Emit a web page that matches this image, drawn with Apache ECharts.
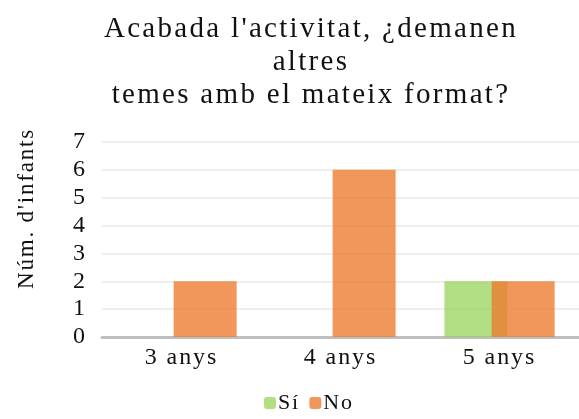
<!DOCTYPE html>
<html>
<head>
<meta charset="utf-8">
<script src="https://cdn.jsdelivr.net/npm/echarts@6/dist/echarts.min.js"></script>
<style>
  html, body { margin: 0; padding: 0; background: #fff; }
  #chart { width: 579px; height: 419px; }
</style>
</head>
<body>
<div id="chart"></div>
<script>
const categories = ['3 anys', '4 anys', '5 anys'];
const siValues = [0, 0, 2];
const noValues = [2, 6, 2];
const yTicks = { min: 0, max: 7, interval: 1 };

// the reference text is set a little loose, so space the letters when drawing
const fillText = CanvasRenderingContext2D.prototype.fillText;
CanvasRenderingContext2D.prototype.fillText = function (t, x, y, w) {
    const m = /([\d.]+)px/.exec(this.font);
    this.letterSpacing = m ? (parseFloat(m[1]) * 0.08).toFixed(1) + 'px' : '0px';
    return fillText.call(this, t, x, y, w);
};

const serif = '"Liberation Serif", "Times New Roman", serif';
const chart = echarts.init(document.getElementById('chart'));

chart.setOption({
    animation: false,
    title: {
        text: "Acabada l'activitat, ¿demanen\naltres\ntemes amb el mateix format?",
        left: 306,
        textAlign: 'center',
        top: 8,
        textStyle: { fontFamily: serif, fontSize: 29, fontWeight: 'normal', color: '#111', lineHeight: 33 }
    },
    legend: {
        top: 387,
        left: 259,
        itemWidth: 12,
        itemHeight: 12,
        itemGap: 13,
        textStyle: { fontFamily: serif, fontSize: 22, color: '#111', padding: [0, 0, 0, -3] },
        data: ['Sí', 'No']
    },
    grid: { left: 102, right: 0, top: 142, bottom: 82 },
    xAxis: {
        type: 'category',
        data: categories,
        axisLine: { lineStyle: { color: '#bfbfbf', width: 3 } },
        axisTick: { show: false },
        axisLabel: { fontFamily: serif, fontSize: 24, color: '#111', margin: 9 }
    },
    yAxis: {
        type: 'value',
        min: yTicks.min,
        max: yTicks.max,
        interval: yTicks.interval,
        name: "Núm. d'infants",
        nameLocation: 'middle',
        nameGap: 64,
        nameTextStyle: { fontFamily: serif, fontSize: 23, color: '#111', padding: [0, 0, 0, 62] },
        axisLine: { show: false },
        axisTick: { show: false },
        axisLabel: { fontFamily: serif, fontSize: 24, color: '#111', margin: 15 },
        splitLine: { lineStyle: { color: '#eeeeee', width: 2 } }
    },
    series: [
        {
            name: 'Sí',
            type: 'bar',
            data: siValues,
            barWidth: 63,
            barGap: '-25%',
            itemStyle: { color: 'rgba(146, 208, 80, 0.7)' }
        },
        {
            name: 'No',
            type: 'bar',
            data: noValues,
            barWidth: 63,
            barGap: '-25%',
            itemStyle: { color: 'rgba(237, 125, 49, 0.8)' }
        }
    ]
});
</script>
</body>
</html>
